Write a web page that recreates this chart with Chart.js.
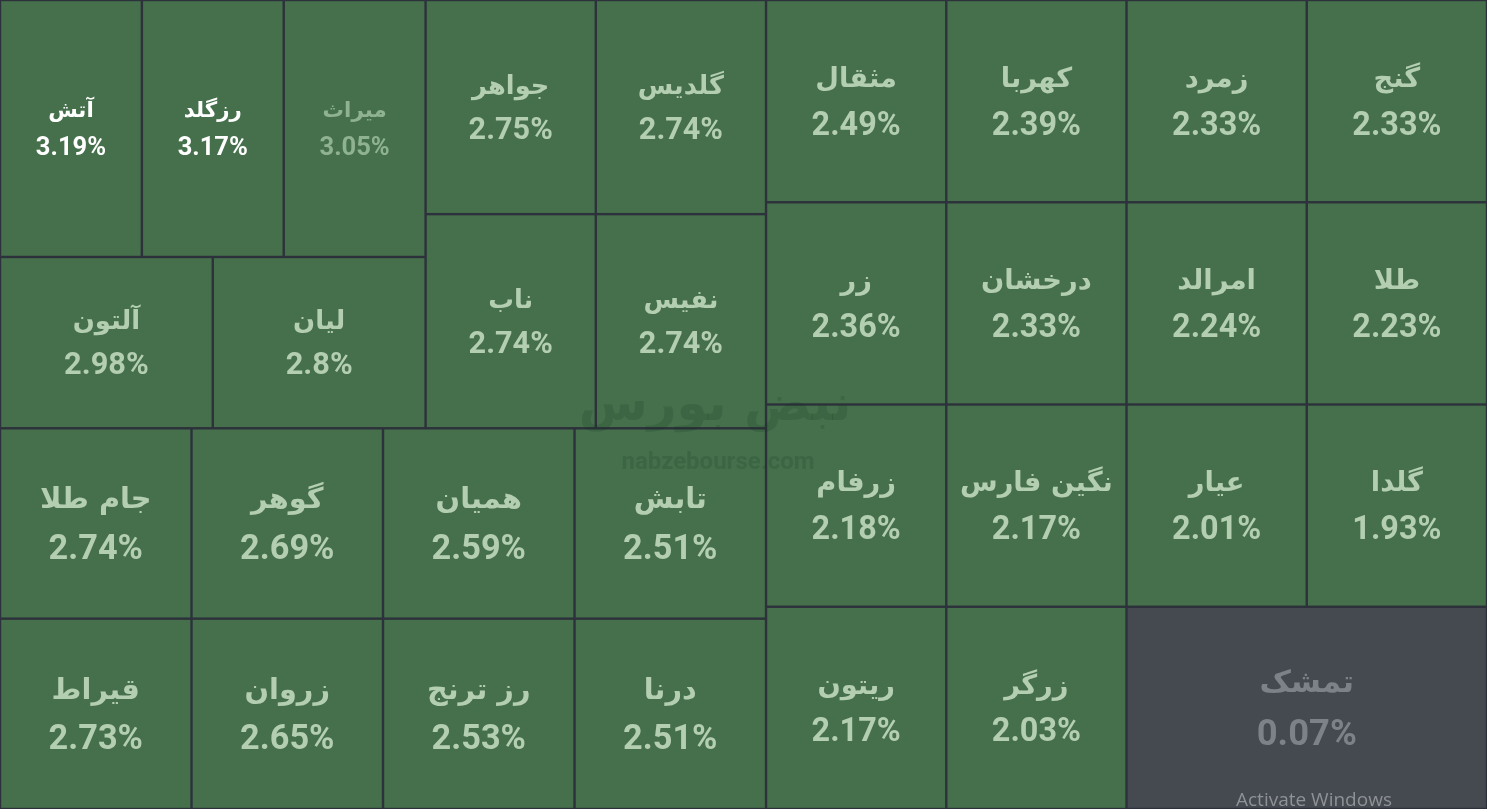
<!DOCTYPE html>
<html lang="fa">
<head>
<meta charset="utf-8">
<title>نقشه بازار صندوق های طلا</title>
<script src="https://cdn.jsdelivr.net/npm/chart.js@4.4.1/dist/chart.umd.min.js"></script>
<style>
    html, body { margin: 0; padding: 0; background: #2d313b; overflow: hidden; }
    #wrap { position: relative; width: 1487px; height: 809px; }
</style>
</head>
<body>
<div id="wrap"><canvas id="myChart"></canvas></div>
<script>
// funds, in the order the treemap lays them out (biggest change first)
var names = ['آتش', 'رزگلد', 'میراث', 'آلتون', 'لیان', 'جواهر', 'گلدیس', 'ناب', 'نفیس',
    'جام طلا', 'قیراط', 'گوهر', 'زروان', 'همیان', 'رز ترنج', 'تابش', 'درنا',
    'مثقال', 'کهربا', 'زر', 'درخشان', 'زمرد', 'گنج', 'امرالد', 'طلا',
    'زرفام', 'نگین فارس', 'ریتون', 'زرگر', 'عیار', 'گلدا', 'تمشک'];
var changes = [3.19, 3.17, 3.05, 2.98, 2.8, 2.75, 2.74, 2.74, 2.74,
    2.74, 2.73, 2.69, 2.65, 2.59, 2.53, 2.51, 2.51,
    2.49, 2.39, 2.36, 2.33, 2.33, 2.33, 2.24, 2.23,
    2.18, 2.17, 2.17, 2.03, 2.01, 1.93, 0.07];
// cell size weight (read from the areas)
var weights = [1, 1, 1, 1, 1, 1, 1, 1, 1,
    1, 1, 1, 1, 1, 1, 1, 1,
    1, 1, 1, 1, 1, 1, 1, 1,
    1, 1, 1, 1, 1, 1, 2];

var whiteLabels = ['آتش', 'رزگلد'];
var dimLabels = ['میراث'];

// binary split treemap, rects in 0..1 units; W/H = pixel size of the area
function binaryLayout(w, W, H) {
    var sums = [0];
    for (var i = 0; i < w.length; i++) sums.push(sums[i] + w[i]);
    var out = [];
    function part(i, j, value, x0, y0, x1, y1) {
        if (i >= j - 1) {
            out[i] = { x0: x0, y0: y0, x1: x1, y1: y1 };
            return;
        }
        var off = sums[i], target = value / 2 + off, k = i + 1, hi = j - 1;
        while (k < hi) {
            var mid = (k + hi) >>> 1;
            if (sums[mid] < target) k = mid + 1; else hi = mid;
        }
        if ((target - sums[k - 1]) < (sums[k] - target) && i + 1 < k) --k;
        var vl = sums[k] - off, vr = value - vl;
        if ((x1 - x0) * W > (y1 - y0) * H) {
            var xk = (x0 * vr + x1 * vl) / value;
            part(i, k, vl, x0, y0, xk, y1);
            part(k, j, vr, xk, y0, x1, y1);
        } else {
            var yk = (y0 * vr + y1 * vl) / value;
            part(i, k, vl, x0, y0, x1, yk);
            part(k, j, vr, x0, yk, x1, y1);
        }
    }
    part(0, w.length, sums[w.length], 0, 0, 1, 1);
    return out;
}

var rects = [];

var treemapPlugin = {
    id: 'treemapLite',
    afterLayout: function (chart) {
        var a = chart.chartArea;
        rects = binaryLayout(weights, a.right - a.left, a.bottom - a.top);
    },
    beforeDatasetsDraw: function (chart) {
        var c = chart.ctx, sx = chart.scales.x, sy = chart.scales.y;
        c.save();
        rects.forEach(function (r, i) {
            var px0 = sx.getPixelForValue(r.x0), px1 = sx.getPixelForValue(r.x1);
            var py0 = sy.getPixelForValue(r.y0), py1 = sy.getPixelForValue(r.y1);
            var neutral = changes[i] < 0.5;
            c.fillStyle = neutral ? '#454950' : '#45704b';
            c.fillRect(px0 + 1.2, py0 + 1.2, px1 - px0 - 2.4, py1 - py0 - 2.4);
        });

        // watermark
        c.fillStyle = 'rgba(20, 50, 28, 0.16)';
        c.textAlign = 'center';
        c.textBaseline = 'alphabetic';
        c.font = 'bold 50px "DejaVu Sans", sans-serif';
        c.fillText('نبض بورس', 715, 420);
        c.font = 'bold 24px Roboto, sans-serif';
        c.fillText('nabzebourse.com', 718, 469);

        rects.forEach(function (r, i) {
            var px0 = sx.getPixelForValue(r.x0), px1 = sx.getPixelForValue(r.x1);
            var py0 = sy.getPixelForValue(r.y0), py1 = sy.getPixelForValue(r.y1);
            var cx = (px0 + px1) / 2, cy = (py0 + py1) / 2;
            var f = 0.18 * Math.min(px1 - px0, py1 - py0);
            var col = '#b3ceb1';
            if (whiteLabels.indexOf(names[i]) >= 0) col = '#ffffff';
            if (dimLabels.indexOf(names[i]) >= 0) col = '#8fb290';
            if (changes[i] < 0.5) col = '#7d8289';
            c.fillStyle = col;
            c.textAlign = 'center';
            c.textBaseline = 'alphabetic';
            c.font = 'bold ' + (0.84 * f).toFixed(1) + 'px "DejaVu Sans", sans-serif';
            c.fillText(names[i], cx, cy - 0.44 * f);
            c.font = 'bold ' + f.toFixed(1) + 'px Roboto, "DejaVu Sans", sans-serif';
            c.fillText(changes[i] + '%', cx, cy + 1.03 * f);
        });
        c.restore();
    },
    afterDraw: function (chart) {
        var c = chart.ctx;
        c.save();
        c.fillStyle = '#8e9196';
        c.font = '19px "Open Sans", sans-serif';
        c.textAlign = 'left';
        c.fillText('Activate Windows', 1236, 806);
        c.restore();
    }
};

var ctx = document.getElementById('myChart');
var xx = new Chart(ctx, {
    type: 'scatter',
    data: {
        datasets: [{
            label: 'تغییر قیمت',
            data: [],
            pointRadius: 0
        }]
    },
    options: {
        responsive: true,
        maintainAspectRatio: false,
        animation: false,
        layout: { padding: 0 },
        plugins: {
            legend: { display: false },
            tooltip: { enabled: false }
        },
        scales: {
            x: { type: 'linear', min: 0, max: 1, display: false },
            y: { type: 'linear', min: 0, max: 1, reverse: true, display: false }
        }
    },
    plugins: [treemapPlugin]
});
</script>
</body>
</html>
